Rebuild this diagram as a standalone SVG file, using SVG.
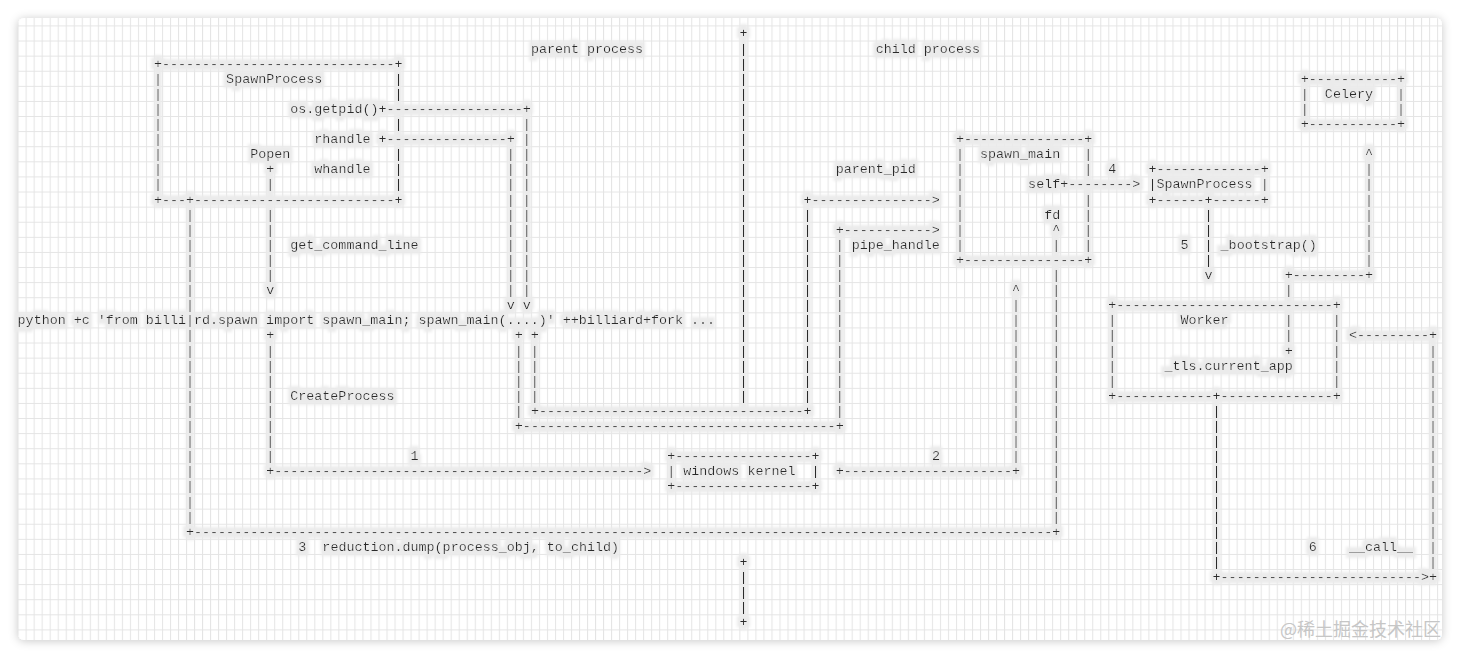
<svg xmlns="http://www.w3.org/2000/svg" width="1461" height="659" viewBox="0 0 1461 659" xml:space="preserve">
<style>
.t{font-family:"Liberation Mono","Courier New",monospace;font-size:13.37px;fill:#2a2a2a;white-space:pre}
.v{text-anchor:middle}
.wm{font-family:"Noto Sans CJK SC","Noto Sans",sans-serif;font-size:18px;fill:#c6c6c6}
</style>
<defs>
<pattern id="grid" x="17.6" y="25.45" width="8.02" height="15.1" patternUnits="userSpaceOnUse">
<path d="M0.5 0V15.1M0 0.5H8.02" stroke="#e4e4e4" stroke-width="1" fill="none"/>
</pattern>
<filter id="shadow" x="-5%" y="-5%" width="110%" height="110%">
<feDropShadow dx="0" dy="1" stdDeviation="5" flood-color="#000" flood-opacity="0.22"/>
</filter>
<filter id="hl" filterUnits="userSpaceOnUse" x="0" y="0" width="1461" height="659">
<feColorMatrix in="SourceAlpha" type="matrix" values="0 0 0 0 0  0 0 0 0 0  0 0 0 0 0  0 0 0 6 0" result="a"/>
<feMorphology in="a" operator="dilate" radius="3 4.5" result="d"/>
<feGaussianBlur in="d" stdDeviation="1.5" result="b"/>
<feFlood flood-color="#ebebeb"/>
<feComposite in2="b" operator="in" result="bg"/>
<feMerge><feMergeNode in="bg"/><feMergeNode in="SourceGraphic"/></feMerge>
</filter>
</defs>
<rect width="1461" height="659" fill="#ffffff"/>
<rect x="18" y="18" width="1424" height="622" rx="6" fill="#ffffff" filter="url(#shadow)"/>
<rect x="18" y="18" width="1424" height="622" rx="6" fill="url(#grid)"/>
<g class="t" filter="url(#hl)">
<g id="connectors">
<text class="v" x="743.41 743.41 743.41 743.41 743.41 743.41 743.41 743.41 743.41 743.41 743.41 743.41 743.41 743.41 743.41 743.41 743.41 743.41 743.41 743.41 743.41 743.41 743.41 743.41 743.41" y="37.4 52.5 67.6 82.7 97.8 112.9 128 143.1 158.2 173.3 188.4 203.5 218.6 233.7 248.8 263.9 279 294.1 309.2 324.3 339.4 354.5 369.6 384.7 399.8">+||||||||||||||||||||||||</text>
<text class="v" x="743.41 743.41 743.41 743.41 743.41" y="565.9 581 596.1 611.2 626.3">+|||+</text>
<text x="378.5" y="112.9" textLength="152.38" lengthAdjust="spacing">+-----------------+</text>
<text class="v" x="526.87 526.87 526.87 526.87 526.87 526.87 526.87 526.87 526.87 526.87 526.87 526.87 526.87" y="128 143.1 158.2 173.3 188.4 203.5 218.6 233.7 248.8 263.9 279 294.1 309.2">||||||||||||v</text>
<text x="378.5" y="143.1" textLength="136.34" lengthAdjust="spacing">+---------------+</text>
<text class="v" x="510.83 510.83 510.83 510.83 510.83 510.83 510.83 510.83 510.83 510.83 510.83" y="158.2 173.3 188.4 203.5 218.6 233.7 248.8 263.9 279 294.1 309.2">||||||||||v</text>
<text class="v" x="270.23 270.23 270.23 270.23 270.23 270.23 270.23 270.23" y="173.3 188.4 218.6 233.7 248.8 263.9 279 294.1">+||||||v</text>
<text class="v" x="270.23 270.23 270.23 270.23 270.23 270.23 270.23 270.23 270.23" y="339.4 354.5 369.6 384.7 399.8 414.9 430 445.1 460.2">+||||||||</text>
<text x="266.22" y="475.3" textLength="384.96" lengthAdjust="spacing">+----------------------------------------------&gt;</text>
<text class="v" x="190.03 190.03 190.03 190.03 190.03 190.03 190.03 190.03 190.03 190.03 190.03 190.03 190.03 190.03 190.03 190.03 190.03 190.03 190.03 190.03" y="218.6 233.7 248.8 263.9 279 294.1 309.2 339.4 354.5 369.6 384.7 399.8 414.9 430 445.1 460.2 475.3 490.4 505.5 520.6">||||||||||||||||||||</text>
<text x="186.02" y="535.7" textLength="874.18" lengthAdjust="spacing">+-----------------------------------------------------------------------------------------------------------+</text>
<text class="v" x="1056.19 1056.19 1056.19 1056.19 1056.19 1056.19 1056.19 1056.19 1056.19 1056.19 1056.19 1056.19 1056.19 1056.19 1056.19 1056.19 1056.19" y="279 294.1 309.2 324.3 339.4 354.5 369.6 384.7 399.8 414.9 430 445.1 460.2 475.3 490.4 505.5 520.6">|||||||||||||||||</text>
<text class="v" x="518.85 518.85 518.85 518.85 518.85 518.85" y="339.4 354.5 369.6 384.7 399.8 414.9">+|||||</text>
<text x="514.84" y="430" textLength="328.82" lengthAdjust="spacing">+---------------------------------------+</text>
<text class="v" x="839.65 839.65 839.65 839.65 839.65 839.65 839.65 839.65 839.65 839.65 839.65 839.65" y="248.8 263.9 279 294.1 309.2 324.3 339.4 354.5 369.6 384.7 399.8 414.9">||||||||||||</text>
<text x="835.64" y="233.7" textLength="104.26" lengthAdjust="spacing">+-----------&gt;</text>
<text class="v" x="534.89 534.89 534.89 534.89 534.89" y="339.4 354.5 369.6 384.7 399.8">+||||</text>
<text x="530.88" y="414.9" textLength="280.7" lengthAdjust="spacing">+---------------------------------+</text>
<text class="v" x="807.57 807.57 807.57 807.57 807.57 807.57 807.57 807.57 807.57 807.57 807.57 807.57 807.57" y="218.6 233.7 248.8 263.9 279 294.1 309.2 324.3 339.4 354.5 369.6 384.7 399.8">|||||||||||||</text>
<text x="803.56" y="203.5" textLength="136.34" lengthAdjust="spacing">+---------------&gt;</text>
<text x="835.64" y="475.3" textLength="184.46" lengthAdjust="spacing">+---------------------+</text>
<text class="v" x="1016.09 1016.09 1016.09 1016.09 1016.09 1016.09 1016.09 1016.09 1016.09 1016.09 1016.09 1016.09" y="294.1 309.2 324.3 339.4 354.5 369.6 384.7 399.8 414.9 430 445.1 460.2">^|||||||||||</text>
<text x="1060.2" y="188.4" textLength="80.2" lengthAdjust="spacing">+--------&gt;</text>
<text class="v" x="1056.19 1056.19" y="233.7 248.8">^|</text>
<text class="v" x="1208.57 1208.57 1208.57 1208.57 1208.57" y="218.6 233.7 248.8 263.9 279">||||v</text>
<text class="v" x="1368.97 1368.97 1368.97 1368.97 1368.97 1368.97 1368.97 1368.97" y="158.2 173.3 188.4 203.5 218.6 233.7 248.8 263.9">^|||||||</text>
<text x="1284.76" y="279" textLength="88.22" lengthAdjust="spacing">+---------+</text>
<text class="v" x="1288.77 1288.77 1288.77 1288.77" y="294.1 324.3 339.4 354.5">|||+</text>
<text class="v" x="1216.59 1216.59 1216.59 1216.59 1216.59 1216.59 1216.59 1216.59 1216.59 1216.59 1216.59" y="414.9 430 445.1 460.2 475.3 490.4 505.5 520.6 535.7 550.8 565.9">|||||||||||</text>
<text x="1212.58" y="581" textLength="224.56" lengthAdjust="spacing">+-------------------------&gt;+</text>
<text class="v" x="1433.13 1433.13 1433.13 1433.13 1433.13 1433.13 1433.13 1433.13 1433.13 1433.13 1433.13 1433.13 1433.13 1433.13 1433.13" y="354.5 369.6 384.7 399.8 414.9 430 445.1 460.2 475.3 490.4 505.5 520.6 535.7 550.8 565.9">|||||||||||||||</text>
<text x="1348.92" y="339.4" textLength="88.22" lengthAdjust="spacing">&lt;---------+</text>
</g>
<g id="node-spawnprocess-parent">
<text x="153.94" y="67.6" textLength="248.62" lengthAdjust="spacing">+-----------------------------+</text>
<text class="v" x="157.95 157.95 157.95 157.95 157.95 157.95 157.95 157.95" y="82.7 97.8 112.9 128 143.1 158.2 173.3 188.4">||||||||</text>
<text class="v" x="398.55 398.55 398.55 398.55 398.55 398.55" y="82.7 97.8 128 158.2 173.3 188.4">||||||</text>
<text x="153.94" y="203.5" textLength="248.62" lengthAdjust="spacing">+---+-------------------------+</text>
<text x="226.12" y="82.7">SpawnProcess</text>
<text x="290.28" y="112.9">os.getpid()</text>
<text x="314.34" y="143.1">rhandle</text>
<text x="250.18" y="158.2">Popen</text>
<text x="314.34" y="173.3">whandle</text>
</g>
<g id="node-windows-kernel">
<text x="667.22" y="460.2" textLength="152.38" lengthAdjust="spacing">+-----------------+</text>
<text class="v" x="671.23 815.59" y="475.3 475.3">||</text>
<text x="683.26" y="475.3">windows kernel</text>
<text x="667.22" y="490.4" textLength="152.38" lengthAdjust="spacing">+-----------------+</text>
</g>
<g id="node-spawn-main">
<text x="955.94" y="143.1" textLength="136.34" lengthAdjust="spacing">+---------------+</text>
<text class="v" x="959.95 959.95 959.95 959.95 959.95 959.95 959.95" y="158.2 173.3 188.4 203.5 218.6 233.7 248.8">|||||||</text>
<text class="v" x="1088.27 1088.27 1088.27 1088.27 1088.27 1088.27" y="158.2 173.3 203.5 218.6 233.7 248.8">||||||</text>
<text x="980" y="158.2">spawn_main</text>
<text x="1028.12" y="188.4">self</text>
<text x="1044.16" y="218.6">fd</text>
<text x="955.94" y="263.9" textLength="136.34" lengthAdjust="spacing">+---------------+</text>
</g>
<g id="node-spawnprocess-child">
<text x="1148.42" y="173.3" textLength="120.3" lengthAdjust="spacing">+-------------+</text>
<text x="1148.42" y="188.4">|SpawnProcess</text>
<text class="v" x="1264.71" y="188.4">|</text>
<text x="1148.42" y="203.5">+------+------+</text>
</g>
<g id="node-celery">
<text x="1300.8" y="82.7" textLength="104.26" lengthAdjust="spacing">+-----------+</text>
<text class="v" x="1304.81 1304.81 1401.05 1401.05" y="97.8 112.9 97.8 112.9">||||</text>
<text x="1324.86" y="97.8">Celery</text>
<text x="1300.8" y="128" textLength="104.26" lengthAdjust="spacing">+-----------+</text>
</g>
<g id="node-worker">
<text x="1108.32" y="309.2" textLength="232.58" lengthAdjust="spacing">+---------------------------+</text>
<text class="v" x="1112.33 1112.33 1112.33 1112.33 1112.33" y="324.3 339.4 354.5 369.6 384.7">|||||</text>
<text class="v" x="1336.89 1336.89 1336.89 1336.89 1336.89" y="324.3 339.4 354.5 369.6 384.7">|||||</text>
<text x="1180.5" y="324.3">Worker</text>
<text x="1164.46" y="369.6">_tls.current_app</text>
<text x="1108.32" y="399.8">+------------+--------------+</text>
</g>
<g id="labels">
<text x="530.88" y="52.5">parent process</text>
<text x="875.74" y="52.5">child process</text>
<text x="290.28" y="248.8">get_command_line</text>
<text x="17.6" y="324.3">python +c 'from billi|rd.spawn import spawn_main; spawn_main(....)' ++billiard+fork ...</text>
<text x="290.28" y="399.8">CreateProcess</text>
<text x="410.58" y="460.2">1</text>
<text x="931.88" y="460.2">2</text>
<text x="298.3" y="550.8">3</text>
<text x="322.36" y="550.8">reduction.dump(process_obj, to_child)</text>
<text x="835.64" y="173.3">parent_pid</text>
<text x="851.68" y="248.8">pipe_handle</text>
<text x="1108.32" y="173.3">4</text>
<text x="1180.5" y="248.8">5</text>
<text x="1220.6" y="248.8">_bootstrap()</text>
<text x="1308.82" y="550.8">6</text>
<text x="1348.92" y="550.8">__call__</text>
</g>
</g>
<text class="wm" x="1441" y="636" text-anchor="end">@稀土掘金技术社区</text>
</svg>
